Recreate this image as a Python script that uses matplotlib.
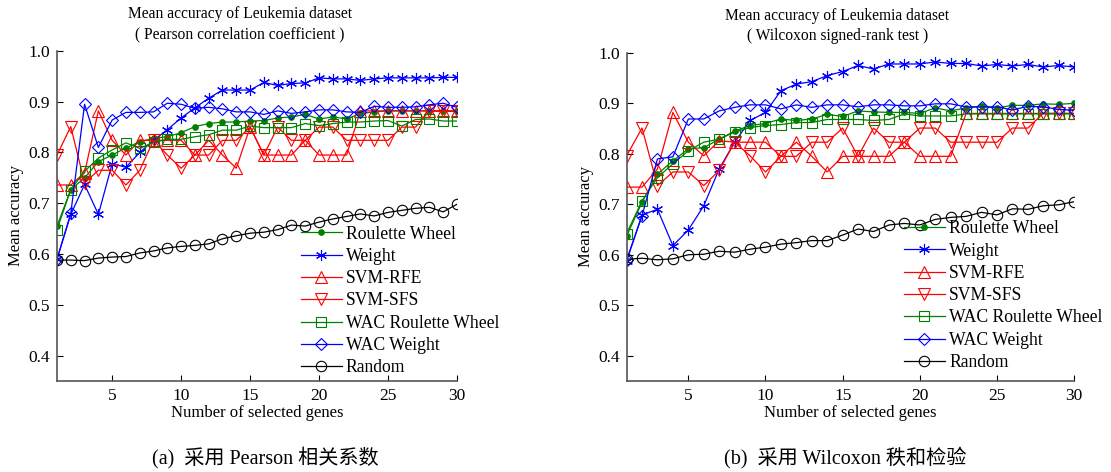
import matplotlib
matplotlib.use("Agg")
import matplotlib.pyplot as plt
import numpy as np

plt.rcParams['font.family'] = ['Liberation Serif', 'Noto Sans CJK SC', 'DejaVu Sans']
plt.rcParams['mathtext.fontset'] = 'stix'

genes = list(range(1, 31))

# ---------- (a) Pearson correlation coefficient ----------
a_roulette = [0.655, 0.727, 0.750, 0.782, 0.795, 0.809, 0.821, 0.828, 0.831, 0.839,
              0.851, 0.857, 0.860, 0.860, 0.862, 0.863, 0.868, 0.870, 0.875, 0.866,
              0.870, 0.866, 0.877, 0.880, 0.882, 0.882, 0.882, 0.882, 0.881, 0.881]
a_weight = [0.590, 0.678, 0.737, 0.678, 0.778, 0.771, 0.800, 0.824, 0.845, 0.868,
            0.888, 0.907, 0.923, 0.923, 0.923, 0.938, 0.932, 0.936, 0.937, 0.947,
            0.945, 0.945, 0.942, 0.945, 0.947, 0.947, 0.947, 0.947, 0.948, 0.948]
a_rfe = [0.736, 0.736, 0.760, 0.882, 0.824, 0.795, 0.824, 0.824, 0.824, 0.824,
         0.795, 0.824, 0.795, 0.769, 0.850, 0.795, 0.795, 0.795, 0.824, 0.795,
         0.795, 0.795, 0.882, 0.882, 0.882, 0.882, 0.882, 0.882, 0.882, 0.882]
a_sfs = [0.795, 0.851, 0.740, 0.765, 0.765, 0.736, 0.765, 0.824, 0.795, 0.769,
         0.795, 0.795, 0.824, 0.824, 0.850, 0.795, 0.850, 0.824, 0.824, 0.850,
         0.850, 0.824, 0.824, 0.824, 0.824, 0.850, 0.850, 0.882, 0.882, 0.882]
a_wac_roulette = [0.648, 0.727, 0.763, 0.789, 0.805, 0.819, 0.808, 0.820, 0.826, 0.826,
                  0.831, 0.835, 0.844, 0.844, 0.852, 0.849, 0.849, 0.849, 0.857, 0.853,
                  0.857, 0.860, 0.860, 0.862, 0.863, 0.852, 0.865, 0.866, 0.862, 0.862]
a_wac_weight = [0.590, 0.680, 0.895, 0.810, 0.864, 0.879, 0.879, 0.880, 0.897, 0.895,
                0.887, 0.889, 0.886, 0.880, 0.880, 0.875, 0.882, 0.877, 0.880, 0.884,
                0.884, 0.880, 0.879, 0.891, 0.889, 0.889, 0.890, 0.894, 0.897, 0.889]
a_random = [0.588, 0.588, 0.587, 0.592, 0.594, 0.595, 0.602, 0.606, 0.612, 0.615,
            0.617, 0.620, 0.630, 0.636, 0.641, 0.643, 0.648, 0.657, 0.655, 0.663,
            0.669, 0.674, 0.679, 0.675, 0.682, 0.686, 0.690, 0.692, 0.683, 0.698]

# ---------- (b) Wilcoxon signed-rank test ----------
b_roulette = [0.637, 0.704, 0.760, 0.786, 0.810, 0.812, 0.829, 0.845, 0.856, 0.860,
              0.869, 0.866, 0.869, 0.878, 0.874, 0.885, 0.883, 0.882, 0.882, 0.880,
              0.891, 0.885, 0.891, 0.894, 0.891, 0.896, 0.896, 0.899, 0.898, 0.900]
b_weight = [0.587, 0.679, 0.690, 0.618, 0.649, 0.697, 0.770, 0.823, 0.866, 0.882,
            0.925, 0.938, 0.943, 0.955, 0.963, 0.975, 0.968, 0.978, 0.978, 0.978,
            0.982, 0.979, 0.979, 0.974, 0.977, 0.974, 0.977, 0.972, 0.975, 0.972]
b_rfe = [0.734, 0.734, 0.770, 0.882, 0.823, 0.796, 0.826, 0.823, 0.823, 0.823,
         0.795, 0.823, 0.795, 0.764, 0.795, 0.795, 0.795, 0.795, 0.823, 0.795,
         0.795, 0.795, 0.880, 0.880, 0.880, 0.880, 0.880, 0.880, 0.880, 0.880]
b_sfs = [0.796, 0.851, 0.737, 0.764, 0.764, 0.737, 0.767, 0.823, 0.796, 0.764,
         0.795, 0.795, 0.823, 0.823, 0.851, 0.795, 0.851, 0.823, 0.823, 0.851,
         0.851, 0.823, 0.823, 0.823, 0.823, 0.851, 0.851, 0.880, 0.880, 0.880]
b_wac_roulette = [0.642, 0.707, 0.753, 0.780, 0.806, 0.823, 0.829, 0.843, 0.852, 0.856,
                  0.858, 0.862, 0.862, 0.868, 0.868, 0.868, 0.866, 0.868, 0.879, 0.875,
                  0.875, 0.875, 0.879, 0.879, 0.879, 0.879, 0.879, 0.879, 0.879, 0.879]
b_wac_weight = [0.590, 0.677, 0.790, 0.794, 0.869, 0.869, 0.885, 0.892, 0.897, 0.897,
                0.889, 0.897, 0.892, 0.897, 0.897, 0.893, 0.897, 0.897, 0.895, 0.895,
                0.899, 0.899, 0.893, 0.893, 0.893, 0.887, 0.894, 0.893, 0.888, 0.886]
b_random = [0.591, 0.593, 0.590, 0.592, 0.600, 0.601, 0.607, 0.605, 0.611, 0.615,
            0.621, 0.624, 0.628, 0.628, 0.639, 0.651, 0.646, 0.659, 0.662, 0.659,
            0.670, 0.674, 0.676, 0.684, 0.679, 0.691, 0.690, 0.697, 0.699, 0.705]

series_labels = ['Roulette Wheel', 'Weight', 'SVM-RFE', 'SVM-SFS',
                 'WAC Roulette Wheel', 'WAC Weight', 'Random']
titles = ['Mean accuracy of Leukemia dataset\n( Pearson correlation coefficient )',
          'Mean accuracy of Leukemia dataset\n( Wilcoxon signed-rank test )']
captions = ['(a)  采用 Pearson 相关系数', '(b)  采用 Wilcoxon 秩和检验']
xticks = [5, 10, 15, 20, 25, 30]
yticks = [0.4, 0.5, 0.6, 0.7, 0.8, 0.9, 1.0]

GREEN = '#008000'
BLUE = '#0000FF'
RED = '#FF0000'
BLACK = '#000000'
ASTER = (6, 2, 0)

styles = [
    dict(color=GREEN, marker='.', ms=8, mfc=GREEN),
    dict(color=BLUE, marker=ASTER, ms=8, mfc='none'),
    dict(color=RED, marker='^', ms=9, mfc='none'),
    dict(color=RED, marker='v', ms=9, mfc='none'),
    dict(color=GREEN, marker='s', ms=7.5, mfc='none'),
    dict(color=BLUE, marker='D', ms=6.5, mfc='none'),
    dict(color=BLACK, marker='o', ms=7.5, mfc='none'),
]

data = [
    [a_roulette, a_weight, a_rfe, a_sfs, a_wac_roulette, a_wac_weight, a_random],
    [b_roulette, b_weight, b_rfe, b_sfs, b_wac_roulette, b_wac_weight, b_random],
]

fig = plt.figure(figsize=(11.11, 4.72), dpi=100)
axes_rects = [[0.0513, 0.193, 0.360, 0.699], [0.5640, 0.193, 0.4028, 0.695]]
legend_anchor = [(0.610, 0.014), (0.620, 0.030)]
title_x = [0.4575, 0.471]
caption_x = [0.2385, 0.7605]

for k in range(2):
    ax = fig.add_axes(axes_rects[k])
    for vals, lab, st in zip(data[k], series_labels, styles):
        ax.plot(genes, vals, color=st['color'], marker=st['marker'],
                markersize=st['ms'], markerfacecolor=st['mfc'],
                markeredgecolor=st['color'], markeredgewidth=0.8,
                linewidth=0.9, label=lab)
    ax.set_xlim(1, 30)
    ax.set_ylim(0.35, 1.0)
    ax.set_xticks(xticks)
    ax.set_yticks(yticks)
    ax.set_yticklabels(['%.1f' % v for v in yticks])
    ax.tick_params(direction='in', length=4, width=0.8, labelsize=12.5, pad=5)
    for side in ['top', 'right']:
        ax.spines[side].set_visible(False)
    for side in ['left', 'bottom']:
        ax.spines[side].set_color('#555555')
        ax.spines[side].set_linewidth(1.2)
    ax.set_title(titles[k], fontsize=11.2, pad=9, linespacing=1.35, x=title_x[k])
    ax.set_xlabel('Number of selected genes', fontsize=12, labelpad=1)
    ax.set_ylabel('Mean accuracy', fontsize=12, labelpad=3)
    ax.legend(loc='lower left', bbox_to_anchor=legend_anchor[k], frameon=False,
              fontsize=12.7, handlelength=2.3, handletextpad=0.25,
              labelspacing=0.30, borderpad=0.0, borderaxespad=0.0)
    fig.text(caption_x[k], 0.03, captions[k], ha='center', va='center', fontsize=14.5)

fig.savefig('out.png', dpi=100)
